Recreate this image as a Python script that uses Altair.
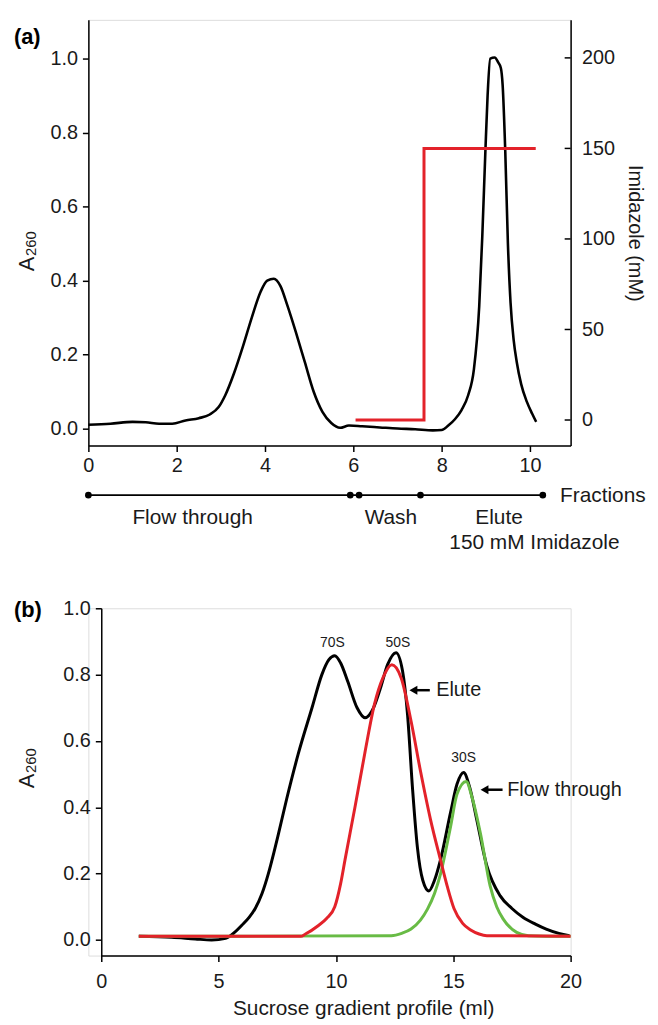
import altair as alt
import pandas as pd

FONT = "Liberation Sans"
RED = "#e3222a"
GREEN = "#68bb45"

# ---------------- Panel (a) data ----------------
a_frac = [0, 0.5, 1.0, 1.3, 1.6, 1.9, 2.2, 2.5, 2.75, 2.95, 3.1, 3.3, 3.5, 3.7, 3.9, 4.05,
          4.2, 4.35, 4.5, 4.7, 4.9, 5.1, 5.3, 5.5, 5.7, 5.9, 6.2, 6.6, 7.0, 7.4, 7.8, 8.0,
          8.15, 8.3, 8.45, 8.6, 8.73, 8.85, 8.92, 8.99, 9.04, 9.1, 9.2, 9.28, 9.34, 9.38,
          9.44, 9.5, 9.56, 9.63, 9.7, 9.8, 9.93, 10.05, 10.14]
a_abs = [0.010, 0.013, 0.018, 0.017, 0.013, 0.013, 0.022, 0.028, 0.038, 0.058, 0.090, 0.150,
         0.222, 0.300, 0.370, 0.400, 0.405, 0.385, 0.335, 0.260, 0.180, 0.100, 0.045, 0.015,
         0.002, 0.008, 0.006, 0.003, 0.000, -0.002, -0.005, -0.004, 0.008, 0.025, 0.050,
         0.090, 0.160, 0.330, 0.520, 0.750, 0.900, 1.000, 1.003, 0.990, 0.975, 0.930,
         0.750, 0.500, 0.340, 0.240, 0.180, 0.120, 0.072, 0.040, 0.018]

imid_frac = [6.05, 7.6, 7.6, 10.13]
imid_mM = [0, 0, 150, 150]
imid_ticks = [0, 50, 100, 150, 200]

fraction_dots = [0, 5.93, 6.13, 7.52, 10.29]
fraction_labels = ["Flow through", "Wash", "Elute", "150 mM Imidazole"]
fraction_label_x = [2.36, 6.85, 9.3, 10.1]
fraction_label_row = [0, 0, 0, 1]

# ---------------- Panel (b) data ----------------
b_black_x = [1.6, 3.0, 4.0, 4.7, 5.3, 5.6, 6.0, 6.3, 6.56, 6.85, 7.12, 7.35, 7.55, 7.9, 8.39,
             8.98, 9.4, 9.7, 9.95, 10.2, 10.5, 10.9, 11.24, 11.6, 11.9, 12.2, 12.56, 12.84,
             13.05, 13.26, 13.47, 13.7, 13.96, 14.2, 14.46, 14.88, 15.16, 15.44, 15.7, 16.0,
             16.43, 17.0, 17.5, 17.98, 18.5, 18.96, 19.5, 19.95]
b_black_y = [0.011, 0.008, 0.003, 0.000, 0.005, 0.018, 0.045, 0.068, 0.095, 0.140, 0.200,
             0.262, 0.320, 0.425, 0.560, 0.700, 0.800, 0.845, 0.857, 0.835, 0.780, 0.700,
             0.670, 0.700, 0.760, 0.830, 0.866, 0.810, 0.680, 0.460, 0.280, 0.180, 0.148,
             0.180, 0.243, 0.383, 0.470, 0.505, 0.460, 0.363, 0.223, 0.133, 0.095, 0.068,
             0.048, 0.033, 0.020, 0.013]
b_red_x = [1.6, 8.5, 8.7, 9.24, 9.6, 9.95, 10.2, 10.39, 10.81, 11.23, 11.64, 12.0, 12.38,
           12.78, 13.2, 13.6, 14.03, 14.46, 14.75, 15.03, 15.4, 15.74, 16.1, 16.43, 20.0]
b_red_y = [0.011, 0.011, 0.018, 0.043, 0.065, 0.100, 0.170, 0.243, 0.400, 0.563, 0.710,
           0.790, 0.830, 0.790, 0.660, 0.510, 0.363, 0.240, 0.160, 0.095, 0.050, 0.030,
           0.018, 0.013, 0.011]
b_green_x = [1.6, 12.36, 12.8, 13.2, 13.6, 13.9, 14.2, 14.46, 14.88, 15.16, 15.55, 15.8,
             16.16, 16.57, 16.85, 17.13, 17.7, 18.2, 20.0]
b_green_y = [0.011, 0.013, 0.020, 0.033, 0.060, 0.093, 0.140, 0.200, 0.340, 0.440, 0.478,
             0.430, 0.320, 0.163, 0.100, 0.063, 0.023, 0.013, 0.011]

peak_labels = ["70S", "50S", "30S"]
peak_x = [9.85, 12.64, 15.44]
peak_y = [0.894, 0.894, 0.549]

arrow_labels = ["Elute", "Flow through"]
arrow_head_x = [13.3, 16.33]
arrow_tail_x = [14.0, 17.1]
arrow_text_x = [14.27, 17.3]
arrow_y = [0.753, 0.453]

# ---------------- shared styles ----------------
LBL = dict(labelFont=FONT, labelFontSize=20, labelColor="#1a1a1a", labelFlush=False,
           domainColor="black", tickColor="black", domainWidth=1.5, tickWidth=1.5,
           grid=False)

# ================= Panel (a) =================
xa = alt.X("frac:Q", scale=alt.Scale(domain=[0, 10.92], nice=False, zero=False),
           axis=alt.Axis(values=[0, 2, 4, 6, 8, 10], format="d", title=None,
                         tickSize=6, labelPadding=4, **LBL))
ya = alt.Y("a260:Q", scale=alt.Scale(domain=[-0.046, 1.105], nice=False, zero=False),
           axis=alt.Axis(values=[0, 0.2, 0.4, 0.6, 0.8, 1.0], format=".1f", title=None,
                         tickSize=6, labelPadding=5, **LBL))
yr = alt.Y("imid:Q", scale=alt.Scale(domain=[-14.1, 221], nice=False, zero=False),
           axis=alt.Axis(orient="right", values=imid_ticks, format="d",
                         title="Imidazole (mM)", titleFont=FONT, titleFontSize=20,
                         titleFontWeight="normal", titleColor="#1a1a1a", titleAngle=90,
                         titlePadding=10, ticks=False, labelPadding=11, **LBL))

df_a = pd.DataFrame({"frac": a_frac, "a260": a_abs})
black_a = alt.Chart(df_a).mark_line(color="black", strokeWidth=2.6,
                                    interpolate="monotone").encode(x=xa, y=ya)

df_frac_line = pd.DataFrame({"frac": [fraction_dots[0]], "frac2": [fraction_dots[-1]]})
frac_rule = alt.Chart(df_frac_line).mark_rule(color="black", strokeWidth=1.6).encode(
    x=xa, x2="frac2:Q", y=alt.value(479))
df_dots = pd.DataFrame({"frac": fraction_dots})
frac_dots = alt.Chart(df_dots).mark_point(filled=True, color="black", size=45,
                                          opacity=1).encode(x=xa, y=alt.value(479))
df_fl = pd.DataFrame({"frac": fraction_label_x, "t": fraction_labels,
                      "row": fraction_label_row})
frac_txt_top = alt.Chart(df_fl[df_fl.row == 0]).mark_text(
    font=FONT, fontSize=21, color="#1a1a1a", baseline="middle").encode(
    x=xa, y=alt.value(501.7), text="t:N")
frac_txt_bot = alt.Chart(df_fl[df_fl.row == 1]).mark_text(
    font=FONT, fontSize=21, color="#1a1a1a", baseline="middle").encode(
    x=xa, y=alt.value(527.7), text="t:N")
df_fr = pd.DataFrame({"frac": [10.68], "t": ["Fractions"]})
frac_word = alt.Chart(df_fr).mark_text(
    font=FONT, fontSize=21, color="#1a1a1a", baseline="middle", align="left").encode(
    x=xa, y=alt.value(480), text="t:N")

label_a = alt.Chart(pd.DataFrame({"t": ["(a)"]})).mark_text(
    font=FONT, fontSize=22, fontWeight="bold", align="left", baseline="middle",
    color="black").encode(x=alt.value(-75), y=alt.value(17), text="t:N")
a_A = alt.Chart(pd.DataFrame({"t": ["A"]})).mark_text(
    font=FONT, fontSize=22, angle=270, align="center", baseline="alphabetic",
    color="#1a1a1a").encode(x=alt.value(-55), y=alt.value(246), text="t:N")
a_sub = alt.Chart(pd.DataFrame({"t": ["260"]})).mark_text(
    font=FONT, fontSize=15, angle=270, align="left", baseline="alphabetic",
    color="#1a1a1a").encode(x=alt.value(-53), y=alt.value(238), text="t:N")

left_a = alt.layer(black_a, frac_rule, frac_dots, frac_txt_top, frac_txt_bot, frac_word,
                   label_a, a_A, a_sub)

df_imid = pd.DataFrame({"frac": imid_frac, "imid": imid_mM, "i": list(range(len(imid_mM)))})
red_a = alt.Chart(df_imid).mark_line(color=RED, strokeWidth=3).encode(
    x=xa, y=yr, order="i:Q")
df_rt = pd.DataFrame({"imid": imid_ticks})
rticks = alt.Chart(df_rt).mark_rule(color="black", strokeWidth=1.5).encode(
    x=alt.value(480), x2=alt.value(486), y=yr)
right_a = alt.layer(red_a, rticks)

panel_a = alt.layer(left_a, right_a).resolve_scale(y="independent").properties(
    width=486, height=429)

# ================= Panel (b) =================
xb = alt.X("ml:Q", scale=alt.Scale(domain=[0, 20], range=[13, 486], nice=False, zero=False),
           axis=alt.Axis(values=[0, 5, 10, 15, 20], format="d",
                         title="Sucrose gradient profile (ml)", titleFont=FONT,
                         titleFontSize=21, titleFontWeight="normal", titleColor="#1a1a1a",
                         titleX=277, titleY=53, titleBaseline="middle",
                         tickSize=6, labelPadding=10, **LBL))
yb = alt.Y("abs:Q", scale=alt.Scale(domain=[-0.047, 1.0], nice=False, zero=False),
           axis=alt.Axis(values=[0, 0.2, 0.4, 0.6, 0.8, 1.0], format=".1f", title=None,
                         offset=-13, tickSize=6, labelPadding=5, **LBL))

df_bk = pd.DataFrame({"ml": b_black_x, "abs": b_black_y})
df_rd = pd.DataFrame({"ml": b_red_x, "abs": b_red_y})
df_gr = pd.DataFrame({"ml": b_green_x, "abs": b_green_y})
blk = alt.Chart(df_bk).mark_line(color="black", strokeWidth=3,
                                 interpolate="monotone").encode(x=xb, y=yb)
grn = alt.Chart(df_gr).mark_line(color=GREEN, strokeWidth=3,
                                 interpolate="monotone").encode(x=xb, y=yb)
red = alt.Chart(df_rd).mark_line(color=RED, strokeWidth=3,
                                 interpolate="monotone").encode(x=xb, y=yb)

df_pk = pd.DataFrame({"ml": peak_x, "abs": peak_y, "t": peak_labels})
pk = alt.Chart(df_pk).mark_text(font=FONT, fontSize=14, color="#1a1a1a",
                                baseline="middle").encode(x=xb, y=yb, text="t:N")

df_ar = pd.DataFrame({"ml": arrow_tail_x, "ml2": arrow_head_x, "abs": arrow_y})
ar_line = alt.Chart(df_ar).mark_rule(color="black", strokeWidth=2.5).encode(
    x=xb, x2="ml2:Q", y=yb)
df_head = pd.DataFrame({"ml": arrow_head_x, "abs": arrow_y})
ar_head = alt.Chart(df_head).mark_point(shape="triangle-left", filled=True, color="black",
                                        size=85, opacity=1).encode(x=xb, y=yb)
df_at = pd.DataFrame({"ml": arrow_text_x, "abs": arrow_y, "t": arrow_labels})
ar_txt = alt.Chart(df_at).mark_text(font=FONT, fontSize=20, color="#1a1a1a", align="left",
                                    baseline="middle").encode(x=xb, y=yb, text="t:N")

label_b = alt.Chart(pd.DataFrame({"t": ["(b)"]})).mark_text(
    font=FONT, fontSize=22, fontWeight="bold", align="left", baseline="middle",
    color="black").encode(x=alt.value(-75), y=alt.value(2), text="t:N")
b_A = alt.Chart(pd.DataFrame({"t": ["A"]})).mark_text(
    font=FONT, fontSize=22, angle=270, align="center", baseline="alphabetic",
    color="#1a1a1a").encode(x=alt.value(-55), y=alt.value(174), text="t:N")
b_sub = alt.Chart(pd.DataFrame({"t": ["260"]})).mark_text(
    font=FONT, fontSize=15, angle=270, align="left", baseline="alphabetic",
    color="#1a1a1a").encode(x=alt.value(-53), y=alt.value(166), text="t:N")

panel_b = alt.layer(blk, grn, red, pk, ar_line, ar_head, ar_txt, label_b, b_A, b_sub
                    ).properties(width=486, height=350)

chart = alt.vconcat(panel_a, panel_b, spacing=43).properties(
    padding={"left": 5, "top": 7, "right": 3, "bottom": 0}
).configure_view(strokeWidth=0).configure(background="white")

chart.save("out.html", embed_options={"renderer": "svg", "actions": False})
